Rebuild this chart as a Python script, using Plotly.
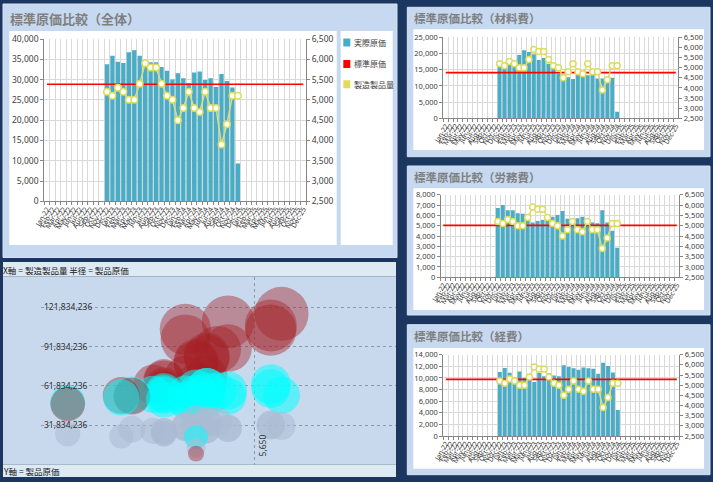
import plotly.graph_objects as go

W, H = 713, 482

# ---------------- data ----------------
months = [
    "Jan-22", "Feb-22", "Mar-22", "Apr-22", "May-22", "Jun-22", "Jul-22", "Aug-22", "Sep-22", "Oct-22", "Nov-22", "Dec-22",
    "Jan-23", "Feb-23", "Mar-23", "Apr-23", "May-23", "Jun-23", "Jul-23", "Aug-23", "Sep-23", "Oct-23", "Nov-23", "Dec-23",
    "Jan-24", "Feb-24", "Mar-24", "Apr-24", "May-24", "Jun-24", "Jul-24", "Aug-24", "Sep-24", "Oct-24", "Nov-24", "Dec-24",
    "Jan-25", "Feb-25", "Mar-25", "Apr-25", "May-25", "Jun-25", "Jul-25", "Aug-25", "Sep-25", "Oct-25", "Nov-25", "Dec-25",
]
period = [
    "Dec-22", "Jan-23", "Feb-23", "Mar-23", "Apr-23", "May-23", "Jun-23", "Jul-23", "Aug-23", "Sep-23", "Oct-23", "Nov-23",
    "Dec-23", "Jan-24", "Feb-24", "Mar-24", "Apr-24", "May-24", "Jun-24", "Jul-24", "Aug-24", "Sep-24", "Oct-24", "Nov-24",
    "Dec-24",
]
qty = [5200, 5100, 5300, 5200, 5000, 5000, 5400, 5900, 5800, 5800, 5400, 5100, 5000,
       4500, 4800, 5200, 4800, 4700, 5200, 4800, 4800, 3900, 4400, 5100, 5100]
actual_total = [33780, 35900, 34420, 34100, 36730, 37220, 35900, 34270, 34270, 34270, 33120, 32200, 29990,
                31560, 30330, 29100, 31720, 31970, 29920, 30330, 28200, 31390, 29670, 28030, 9300]
actual_material = [16000, 15800, 16900, 16300, 19500, 21000, 20500, 19800, 18000, 18600, 16800, 15500, 13800,
                   12000, 12700, 12100, 13900, 13400, 13300, 13700, 12300, 12300, 12400, 12500, 2000]
actual_labor = [6700, 7000, 6500, 6500, 6200, 6150, 5450, 5300, 5450, 5550, 5500, 5870, 6030,
                6420, 5680, 5450, 5710, 5870, 5390, 5300, 5230, 6500, 5300, 4520, 2870]
actual_overhead = [11000, 11700, 10900, 10000, 11100, 10000, 10000, 9300, 10900, 10300, 10800, 10400, 10300,
                   12200, 11900, 11650, 11400, 11800, 11650, 11600, 10700, 12600, 12050, 10950, 4470]
std_total = 28850
std_material = 14100
std_labor = 5030
std_overhead = 9750

# bubble chart: product cost per component (y & bubble area) vs production quantity (x)
bubble_material = [83200000, 80580000, 89570000, 84760000, 97500000, 105000000, 110700000, 116820000,
                   104400000, 107880000, 90720000, 79050000, 69000000, 54000000, 60960000, 62920000,
                   66720000, 62980000, 69160000, 65760000, 59040000, 47970000, 54560000, 63750000, 10200000]
bubble_overhead = [57200000, 59670000, 57770000, 52000000, 55500000, 50000000, 54000000, 54870000,
                   63220000, 59740000, 58320000, 53040000, 51500000, 54900000, 57120000, 60580000,
                   54720000, 55460000, 60580000, 55680000, 51360000, 49140000, 53020000, 55850000, 22800000]
bubble_labor = [34840000, 35700000, 34450000, 33800000, 31000000, 30750000, 29430000, 31270000,
                31610000, 32190000, 29700000, 29940000, 30150000, 28890000, 27260000, 28340000,
                27410000, 27590000, 28030000, 25440000, 25100000, 25350000, 23320000, 23050000, 14640000]
bubble_yticks = [31834236, 61834236, 91834236, 121834236]

# ---------------- style ----------------
NAVY = "#1b375f"
PANEL = "#c6d9f1"
BAR = "#4bacc6"
LINEY = "#dcdc78"
AXC = "#868686"
GRID = "#d9d9d9"
TXT = "#404040"
NUMFONT = "Noto Sans, Liberation Sans, sans-serif"
JPFONT = "Noto Sans CJK JP, sans-serif"


def fx(p):
    return p / W


def fy(p):
    return 1 - p / H


fig = go.Figure()
shapes = []
annotations = []


def rect(x0, y0, x1, y1, fill, line=None, layer="below"):
    shapes.append(dict(type="rect", xref="paper", yref="paper",
                       x0=fx(x0), x1=fx(x1), y0=fy(y1), y1=fy(y0),
                       fillcolor=fill, line=dict(width=1 if line else 0, color=line or fill),
                       layer=layer))


def title(text, x, y, size):
    annotations.append(dict(text="<b>" + text + "</b>", x=fx(x), y=fy(y), xref="paper", yref="paper",
                            xanchor="left", yanchor="middle", showarrow=False,
                            font=dict(family=JPFONT, size=size, color="#7f7f7f")))


# ---------------- panels ----------------
rect(3, 4, 397, 257.5, PANEL, "#d6e2f0")
rect(9.3, 31, 336.7, 245, "white")
rect(340.7, 31, 392.7, 245, "white")
title("標準原価比較（全体）", 8, 18.5, 13)

right_panels = [(7.3, 156.7, 29.3, 150, "標準原価比較（材料費）", 18.5),
                (166, 315, 188.3, 310, "標準原価比較（労務費）", 177),
                (324.7, 474.7, 348, 468.7, "標準原価比較（経費）", 336)]
for (py0, py1, wy0, wy1, t, ty) in right_panels:
    rect(407.3, py0, 710, py1, PANEL, "#d6e2f0")
    rect(413.3, wy0, 704, wy1, "white")
    title(t, 412, ty, 11.5)

# bubble panel
rect(3, 262, 396, 276.5, "#dde9f3")
rect(3, 276.5, 396, 464.6, "#c8d9ee")
rect(3, 464.6, 396, 477, "#dde9f3")
annotations.append(dict(text="X軸 = 製造製品量 半径 = 製品原価", x=fx(1), y=fy(269.5), xref="paper", yref="paper",
                        xanchor="left", yanchor="middle", showarrow=False,
                        font=dict(family=JPFONT, size=8.5, color="#202020")))
annotations.append(dict(text="Y軸 = 製品原価", x=fx(1), y=fy(471), xref="paper", yref="paper",
                        xanchor="left", yanchor="middle", showarrow=False,
                        font=dict(family=JPFONT, size=8.5, color="#202020")))

# legend of main chart
legend_items = [("実際原価", BAR, 42.5), ("標準原価", "#ff0000", 64), ("製造製品量", "#e2dc5c", 84.3)]
for name, col, ly in legend_items:
    rect(343.3, ly - 4, 350.3, ly + 4, col, layer="above")
    annotations.append(dict(text=name, x=fx(351.5), y=fy(ly), xref="paper", yref="paper",
                            xanchor="left", yanchor="middle", showarrow=False,
                            font=dict(family=JPFONT, size=8, color=TXT)))

# ---------------- combo charts ----------------
charts = [
    # (xname, yname, y2name, x0, x1, ytop, ybot, bars, std, ymax, dtick, tickfont)
    ("x", "y", "y2", 44.3, 306, 39, 201.3, actual_total, std_total, 40000, 5000, 8.5),
    ("x3", "y3", "y4", 443.3, 678.3, 37.3, 118.3, actual_material, std_material, 25000, 5000, 7.5),
    ("x5", "y5", "y6", 440.7, 679.3, 194.7, 277.3, actual_labor, std_labor, 8000, 1000, 7.5),
    ("x7", "y7", "y8", 443.3, 679.3, 354.7, 436, actual_overhead, std_overhead, 14000, 2000, 7.5),
]

layout_axes = {}
for (xn, yn, y2n, x0, x1, yt, yb, bars, std, ymax, dt, tf) in charts:
    fig.add_trace(go.Scatter(x=months, y=[std] * len(months), mode="lines",
                             line=dict(color="#ff0000", width=1.6), xaxis=xn, yaxis=yn,
                             showlegend=False, hoverinfo="skip"))
    fig.add_trace(go.Bar(x=period, y=bars, marker=dict(color=BAR, line=dict(width=0)),
                         xaxis=xn, yaxis=yn, showlegend=False))
    fig.add_trace(go.Scatter(x=period, y=qty, mode="lines+markers",
                             line=dict(color=LINEY, width=1.5),
                             marker=dict(size=6.5 if tf > 8 else 6, color="white",
                                         line=dict(color="#dcdc60", width=1.5)),
                             xaxis=xn, yaxis=y2n, showlegend=False))
    xkey = "xaxis" + xn[1:]
    ykey = "yaxis" + yn[1:]
    y2key = "yaxis" + y2n[1:]
    layout_axes[xkey] = dict(domain=[fx(x0), fx(x1)], anchor=yn, type="category",
                             categoryorder="array", categoryarray=months, automargin=False,
                             range=[-0.5, len(months) - 0.5], tickson="boundaries",
                             dtick=1, tickangle=-60, showgrid=True, gridcolor=GRID, gridwidth=1,
                             ticks="outside", ticklen=3, tickcolor=AXC, showline=True, linecolor=AXC,
                             tickfont=dict(family=NUMFONT, size=7 if tf > 8 else 6.8, color="#333333"),
                             zeroline=False)
    layout_axes[ykey] = dict(domain=[fy(yb), fy(yt)], anchor=xn, range=[0, ymax], dtick=dt,
                             tickformat=",", showgrid=True, gridcolor=GRID, ticks="outside",
                             ticklen=3, tickcolor=AXC, showline=True, linecolor=AXC, zeroline=False,
                             automargin=False, tickfont=dict(family=NUMFONT, size=tf, color=TXT))
    layout_axes[y2key] = dict(overlaying=yn, anchor=xn, side="right", range=[2500, 6500], dtick=500,
                              tickformat=",", showgrid=False, ticks="outside", ticklen=3,
                              tickcolor=AXC, showline=True, linecolor=AXC, zeroline=False,
                              automargin=False, tickfont=dict(family=NUMFONT, size=tf, color=TXT))

# ---------------- bubble chart ----------------
# all bubbles in one trace, larger ones drawn first so that smaller ones stay visible
bubble_series = [(bubble_labor, "rgba(172,188,210,0.8)"),
                 (bubble_material, "rgba(165,30,35,0.6)"),
                 (bubble_overhead, "rgba(0,255,255,0.75)")]
pts = []
for vals, col in bubble_series:
    for q, v in zip(qty, vals):
        pts.append((v, q, col))
pts.sort(key=lambda p: -p[0])
fig.add_trace(go.Scatter(x=[p[1] for p in pts], y=[p[0] for p in pts], mode="markers",
                         xaxis="x9", yaxis="y9",
                         marker=dict(size=[p[0] for p in pts], sizemode="area", sizeref=80000,
                                     color=[p[2] for p in pts], line=dict(width=0)),
                         showlegend=False))

layout_axes["xaxis9"] = dict(domain=[fx(41), fx(396)], anchor="y9", range=[3650, 6971],
                             tickvals=[3650, 5650], ticktext=["", ""], showgrid=True,
                             gridcolor="#8f99a6", griddash="dot", gridwidth=1, zeroline=False,
                             showline=False, ticks="", automargin=False)
layout_axes["yaxis9"] = dict(domain=[fy(464.6), fy(276.5)], anchor="x9", range=[1834236, 145300000],
                             tickvals=bubble_yticks, tickformat=",", ticklabelposition="inside",
                             showgrid=True, gridcolor="#8f99a6", griddash="dot", zeroline=False,
                             showline=False, ticks="", automargin=False,
                             tickfont=dict(family=NUMFONT, size=8.5, color="#303030"))
annotations.append(dict(text="5,650", x=5650, xref="x9", y=0, yref="y9 domain",
                        xanchor="center", yanchor="bottom", xshift=8, yshift=6, textangle=-90,
                        showarrow=False, font=dict(family=NUMFONT, size=8.5, color="#303030")))

fig.update_layout(
    width=W, height=H, autosize=False,
    margin=dict(l=0, r=0, t=0, b=0, pad=0, autoexpand=False),
    paper_bgcolor=NAVY, plot_bgcolor="rgba(0,0,0,0)",
    bargap=0.2, showlegend=False, hovermode=False,
    shapes=shapes, annotations=annotations,
    **layout_axes,
)

fig.write_html("out.html", config={"displayModeBar": False},
               post_script="document.body.style.margin='0';document.body.style.background='" + NAVY + "';")
